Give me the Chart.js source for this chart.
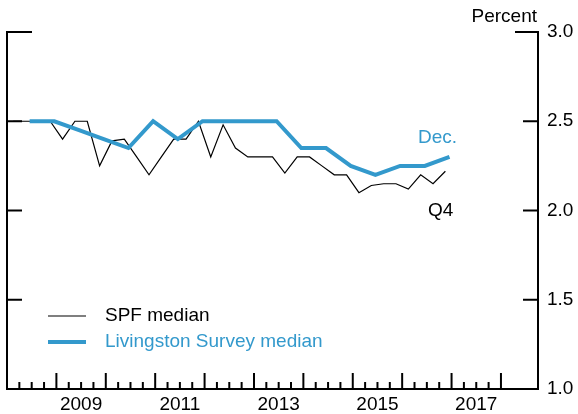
<!DOCTYPE html>
<html>
<head>
<meta charset="utf-8">
<script src="https://cdn.jsdelivr.net/npm/chart.js@4.4.1/dist/chart.umd.min.js"></script>
<style>
html,body{margin:0;padding:0;background:#fff;}
#wrap{width:578px;height:414px;position:relative;}
</style>
</head>
<body>
<div id="wrap"><canvas id="c" width="578" height="414"></canvas></div>
<script>
// ---- data ----
const spfQuarters = [
  '2008Q1','2008Q2','2008Q3','2008Q4','2009Q1','2009Q2','2009Q3','2009Q4',
  '2010Q1','2010Q2','2010Q3','2010Q4','2011Q1','2011Q2','2011Q3','2011Q4',
  '2012Q1','2012Q2','2012Q3','2012Q4','2013Q1','2013Q2','2013Q3','2013Q4',
  '2014Q1','2014Q2','2014Q3','2014Q4','2015Q1','2015Q2','2015Q3','2015Q4',
  '2016Q1','2016Q2','2016Q3','2016Q4'
];
const spfValues = [
  2.5, 2.5, 2.5, 2.5,   2.4, 2.5, 2.5, 2.25,
  2.39, 2.4, 2.3, 2.2,  2.3, 2.4, 2.4, 2.5,
  2.3, 2.48, 2.35, 2.3, 2.3, 2.3, 2.21, 2.3,
  2.3, 2.25, 2.2, 2.2,  2.1, 2.14, 2.15, 2.15,
  2.12, 2.2, 2.15, 2.22
];
const livMonths = [
  '2008-06','2008-12','2009-06','2009-12','2010-06','2010-12',
  '2011-06','2011-12','2012-06','2012-12','2013-06','2013-12',
  '2014-06','2014-12','2015-06','2015-12','2016-06','2016-12'
];
const livValues = [
  2.5, 2.5, 2.45, 2.4, 2.35, 2.5,
  2.4, 2.5, 2.5, 2.5, 2.5, 2.35,
  2.35, 2.25, 2.2, 2.25, 2.25, 2.3
];
const yearLabels = [2009, 2011, 2013, 2015, 2017];
const yTickValues = [1.0, 1.5, 2.0, 2.5, 3.0];
const seriesNames = ['SPF median', 'Livingston Survey median'];
const endLabels = ['Q4', 'Dec.'];

// ---- helpers ----
const quarterToX = s => { const y = +s.slice(0,4), q = +s.slice(5); return y + ((q-1)*3 + 1.5)/12; };
const monthToX = s => { const y = +s.slice(0,4), m = +s.slice(5); return y + (m-0.5)/12; };

const BLUE = '#3399cc';
const FONT = '"Liberation Sans", Arial, Helvetica, sans-serif';
const FS = 19;

const decor = {
  id: 'decor',
  afterDraw(chart) {
    const {ctx, chartArea: a, scales: {x, y}} = chart;
    const line = (x1,y1,x2,y2) => { ctx.beginPath(); ctx.moveTo(x1,y1); ctx.lineTo(x2,y2); ctx.stroke(); };
    ctx.save();
    ctx.strokeStyle = '#000';
    ctx.lineWidth = 2;
    ctx.lineCap = 'butt';
    const top = y.getPixelForValue(3.0);
    const bot = y.getPixelForValue(1.0);
    // frame
    line(a.left, top - 1, a.left, bot + 1);
    line(a.right, top - 1, a.right, bot + 1);
    line(a.left - 1, bot, a.right + 1, bot);
    // y ticks (inward)
    yTickValues.forEach(v => {
      if (v === 1.0) return;
      const py = y.getPixelForValue(v);
      const L = v === 3.0 ? 25 : 15, R = v === 3.0 ? 23 : 15;
      line(a.left, py, a.left + L, py);
      line(a.right - R, py, a.right, py);
    });
    // x ticks: quarterly minor, yearly major
    for (let v = x.min + 0.25; v <= 2018.001; v += 0.25) {
      const px = x.getPixelForValue(v);
      const major = Math.abs(v - Math.round(v)) < 1e-6;
      line(px, bot, px, bot - (major ? 16 : 7));
    }
    // legend
    const ds = chart.data.datasets;
    ctx.font = FS + 'px ' + FONT;
    ctx.textBaseline = 'middle';
    ctx.textAlign = 'left';
    const legendRows = [316, 342];
    [1, 0].forEach((di, i) => {
      const d = ds[di];
      ctx.strokeStyle = d.borderColor;
      ctx.lineWidth = d.borderWidth;
      line(48, legendRows[i], 86, legendRows[i]);
      ctx.fillStyle = d.borderColor;
      ctx.fillText(d.label, 105, legendRows[i]);
    });
    // end labels
    ctx.fillStyle = BLUE;
    ctx.fillText(endLabels[1], 418, 138);
    ctx.fillStyle = '#000';
    ctx.fillText(endLabels[0], 428, 211);
    // unit label
    ctx.textAlign = 'right';
    ctx.fillText('Percent', 537, 17);
    ctx.restore();
  }
};

new Chart(document.getElementById('c'), {
  type: 'line',
  data: {
    datasets: [
      {
        label: seriesNames[1],
        data: livMonths.map((m, i) => ({x: monthToX(m), y: livValues[i]})),
        borderColor: BLUE, borderWidth: 4, pointRadius: 0, tension: 0,
        borderJoinStyle: 'miter', order: 1
      },
      {
        label: seriesNames[0],
        data: spfQuarters.map((q, i) => ({x: quarterToX(q), y: spfValues[i]})),
        borderColor: '#000', borderWidth: 1.2, pointRadius: 0, tension: 0,
        borderJoinStyle: 'miter', order: 2
      }
    ]
  },
  options: {
    responsive: false,
    animation: false,
    devicePixelRatio: 1,
    layout: {padding: {left: 7, top: 32, right: 0, bottom: 0}},
    plugins: {legend: {display: false}, tooltip: {enabled: false}, title: {display: false}},
    scales: {
      x: {
        type: 'linear', min: 2008, max: 2018.75,
        grid: {display: false, drawTicks: false},
        border: {display: false},
        afterBuildTicks: s => { s.ticks = yearLabels.map(v => ({value: v + 0.5})); },
        afterFit: s => { s.height = 25; },
        ticks: {
          autoSkip: false, maxRotation: 0, padding: 4,
          color: '#000', font: {family: FONT, size: FS},
          callback: v => String(Math.floor(v))
        }
      },
      y: {
        type: 'linear', position: 'right', min: 1, max: 3,
        grid: {display: false, drawTicks: false},
        border: {display: false},
        afterBuildTicks: s => { s.ticks = yTickValues.map(v => ({value: v})); },
        afterFit: s => { s.width = 40; },
        ticks: {
          padding: 9, color: '#000', font: {family: FONT, size: FS},
          callback: v => Number(v).toFixed(1)
        }
      }
    }
  },
  plugins: [decor]
});
</script>
</body>
</html>
